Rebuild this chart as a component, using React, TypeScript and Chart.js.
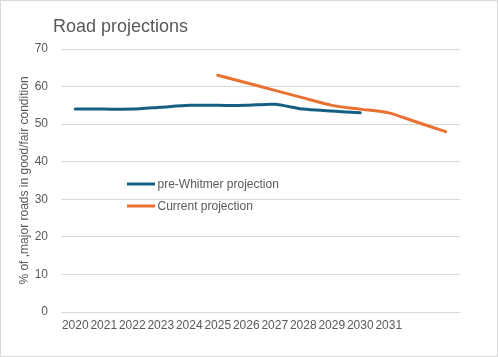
import React, { useEffect, useRef } from "react";
import { Chart, registerables } from "chart.js";

Chart.register(...registerables);

const labels = ["2020", "2021", "2022", "2023", "2024", "2025", "2026", "2027", "2028", "2029", "2030", "2031", "", ""];
const preWhitmer = [54, 54, 54, 54.5, 55, 55, 55, 55.3, 54, 53.5, 53, null, null, null];
const current = [null, null, null, null, null, 63, 61, 59, 57, 55, 54, 53, 50.5, 48];
const seriesNames = ["pre-Whitmer projection", "Current projection"];
const titleText = "Road projections";
const yTitle = "% of ,major roads in good/fair condition";

const TEXT = "#595959";
const GRID = "#D9D9D9";
const FONT = "'Liberation Sans', Arial, sans-serif";

const decor = {
  id: "decor",
  beforeDraw(chart: any) {
    const ctx = chart.ctx;
    ctx.save();
    ctx.fillStyle = "#ffffff";
    ctx.fillRect(0, 0, chart.width, chart.height);
    ctx.strokeStyle = GRID;
    ctx.lineWidth = 1;
    ctx.strokeRect(0.5, 0.5, chart.width - 1, chart.height - 1);
    ctx.fillStyle = TEXT;
    ctx.font = `18px ${FONT}`;
    ctx.textBaseline = "alphabetic";
    ctx.textAlign = "left";
    ctx.fillText(titleText, 53, 32);
    ctx.restore();
  },
  afterDraw(chart: any) {
    const ctx = chart.ctx;
    ctx.save();
    const ys = [184, 206];
    chart.data.datasets.forEach((ds: any, i: number) => {
      ctx.strokeStyle = ds.borderColor;
      ctx.lineWidth = 3;
      ctx.beginPath();
      ctx.moveTo(127, ys[i]);
      ctx.lineTo(155, ys[i]);
      ctx.stroke();
      ctx.fillStyle = TEXT;
      ctx.font = `12px ${FONT}`;
      ctx.textBaseline = "middle";
      ctx.textAlign = "left";
      ctx.fillText(ds.label, 157.5, ys[i] + 0.5);
    });
    ctx.restore();
  },
};

export default function App() {
  const ref = useRef<HTMLCanvasElement>(null);
  useEffect(() => {
    const chart = new Chart(ref.current!, {
      type: "line",
      data: {
        labels,
        datasets: [
          {
            label: seriesNames[0],
            data: preWhitmer,
            borderColor: "#156082",
            backgroundColor: "#156082",
            borderWidth: 3,
            pointRadius: 0,
            tension: 0.25,
            borderCapStyle: "round",
          },
          {
            label: seriesNames[1],
            data: current,
            borderColor: "#E97132",
            backgroundColor: "#E97132",
            borderWidth: 3,
            pointRadius: 0,
            tension: 0.25,
            borderCapStyle: "round",
          },
        ],
      },
      options: {
        animation: false,
        responsive: false,
        maintainAspectRatio: false,
        devicePixelRatio: 1,
        layout: { padding: { left: 13, top: 49, right: 38, bottom: 0 } },
        plugins: {
          legend: { display: false },
          title: { display: false },
          tooltip: { enabled: false },
        },
        scales: {
          x: {
            offset: true,
            grid: { display: false, drawTicks: false },
            border: { display: false },
            ticks: {
              autoSkip: false,
              maxRotation: 0,
              minRotation: 0,
              color: TEXT,
              font: { family: FONT, size: 12 },
              padding: 6,
            },
            afterFit(scale: any) {
              scale.height = 45;
            },
          },
          y: {
            min: 0,
            max: 70,
            ticks: {
              stepSize: 10,
              color: TEXT,
              font: { family: FONT, size: 12 },
              padding: 13,
            },
            grid: { color: GRID, lineWidth: 1, drawTicks: false },
            border: { display: false },
            title: {
              display: true,
              text: yTitle,
              color: TEXT,
              font: { family: FONT, size: 12 },
              padding: { top: 4, bottom: 0 },
            },
            afterFit(scale: any) {
              scale.width = 48;
            },
          },
        },
      },
      plugins: [decor],
    });
    return () => chart.destroy();
  }, []);
  return (
    <div style={{ position: "absolute", left: 0, top: 0, width: 498, height: 357 }}>
      <canvas ref={ref} width={498} height={357} style={{ width: 498, height: 357, display: "block" }} />
    </div>
  );
}
